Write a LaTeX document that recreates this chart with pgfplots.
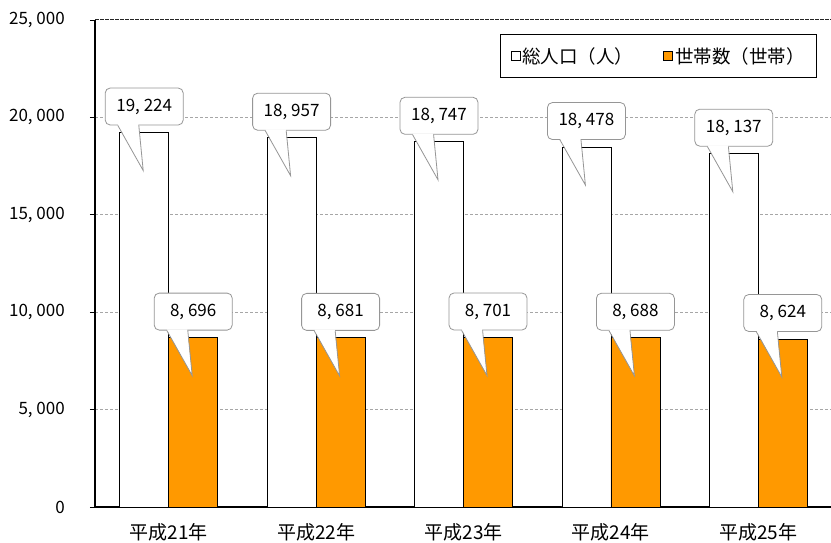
\documentclass[border=0pt]{standalone}
\usepackage{fontspec}
\setmainfont{Noto Sans CJK JP}
\usepackage{pgfplots}
\pgfplotsset{compat=1.18}
\definecolor{barorange}{RGB}{255,153,0}
\definecolor{callgray}{RGB}{150,150,150}
\begin{document}
\begin{tikzpicture}
\begin{axis}[
  set layers,
  scale only axis, width=737bp, height=487bp,
  ybar=0pt, bar width=49bp,
  xmin=-0.5, xmax=4.5, ymin=0, ymax=25000,
  xtick=data, xticklabels={平成21年,平成22年,平成23年,平成24年,平成25年},
  ytick={0,5000,10000,15000,20000},
  scaled y ticks=false,
  extra y ticks={25000},
  extra y tick style={ymajorgrids=true, major grid style={black!85, dash pattern=on 4bp off 1bp, line width=1bp}},
  ymajorgrids, major grid style={dash pattern=on 3bp off 2bp, color=gray!70, line width=0.6bp},
  axis lines*=left, axis line style={line width=1.2bp, black},
  tick align=outside, major tick length=5bp,
  x tick style={draw=none},
  y tick style={black, line width=0.8bp},
  yticklabel style={font=\fontsize{17bp}{20bp}\selectfont, anchor=east, inner sep=0pt, xshift=-25bp},
  xticklabel style={font=\fontsize{19bp}{22bp}\selectfont, anchor=north, inner sep=0pt, yshift=-11bp},
  /pgf/number format/assume math mode=true,
  /pgf/number format/1000 sep={,\ },
  nodes near coords,
  every node near coord/.append style={rectangle, draw=callgray, line width=0.8bp, fill=white, rounded corners=5bp, minimum width=78bp, minimum height=37bp, inner sep=0pt, anchor=center, yshift=26bp, font=\fontsize{17bp}{20bp}\selectfont, text=black,
    append after command={\pgfextra{%
      \begin{pgfonlayer}{axis foreground}
      \path[fill=white, draw=none, rounded corners=0pt] ([xshift=13.4bp,yshift=1.2bp]\tikzlastnode.south west) -- ([xshift=13.4bp]\tikzlastnode.south west) -- ([xshift=-1bp,yshift=-64bp]\tikzlastnode.center) -- ([xshift=33.6bp]\tikzlastnode.south west) -- ([xshift=33.6bp,yshift=1.2bp]\tikzlastnode.south west) -- cycle;
      \path[draw=callgray, fill=none, line width=0.8bp, rounded corners=0pt, line join=miter] ([xshift=13bp]\tikzlastnode.south west) -- ([xshift=-1bp,yshift=-64bp]\tikzlastnode.center) -- ([xshift=34bp]\tikzlastnode.south west);
      \end{pgfonlayer}}}},
  legend style={at={(0.9796,0.971)}, anchor=north east, draw=black, line width=0.8bp, font=\fontsize{18.5bp}{22bp}\selectfont, inner xsep=10bp, inner ysep=11bp, /tikz/every even column/.append style={column sep=28bp}},
  legend columns=2, legend cell align=left,
  every axis plot post/.append style={legend image code/.code={\draw[#1, line width=0.6bp] (0bp,-4.5bp) rectangle (9bp,4.5bp);}},
]
\addplot[fill=white, draw=black, line width=0.8bp] coordinates {(0,19224) (1,18957) (2,18747) (3,18478) (4,18137)};
\addplot[fill=barorange, draw=black, line width=0.8bp] coordinates {(0,8696) (1,8681) (2,8701) (3,8688) (4,8624)};
\legend{総人口（人）,世帯数（世帯）}
\end{axis}
\pgfresetboundingbox
\useasboundingbox (current axis.south west) ++(-95bp,-36bp) rectangle ++(831bp,543bp);
\end{tikzpicture}
\end{document}
